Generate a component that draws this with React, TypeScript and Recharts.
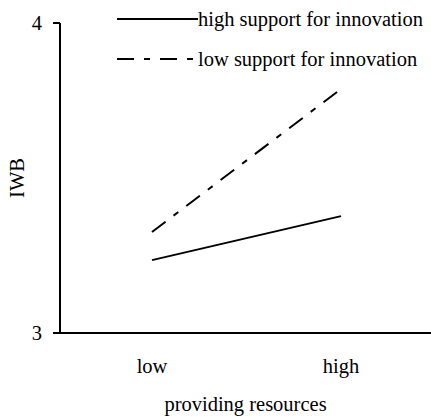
import { LineChart, Line, XAxis, YAxis, Legend } from 'recharts';

const levels = ['low', 'high'];
const highSupport = [3.235, 3.377];
const lowSupport = [3.326, 3.787];
const yTicks = [3, 4];

const data = levels.map((level, i) => ({
  level,
  high: highSupport[i],
  low: lowSupport[i],
}));

const FONT = '"Liberation Serif", "Times New Roman", serif';
const FS = 20.5;
const DASH = '17 10 6 10';

const legendItems = [
  { label: 'high support for innovation', dash: undefined },
  { label: 'low support for innovation', dash: DASH },
];

const renderLegend = () => (
  <div style={{ fontFamily: FONT, fontSize: FS, color: '#000', lineHeight: 1 }}>
    {legendItems.map((item) => (
      <div key={item.label} style={{ display: 'flex', alignItems: 'center', height: 40 }}>
        <svg width={81} height={4} style={{ display: 'block' }}>
          <line x1={0} y1={2} x2={81} y2={2} stroke="#000" strokeWidth={2} strokeDasharray={item.dash} />
        </svg>
        <span style={{ whiteSpace: 'nowrap' }}>{item.label}</span>
      </div>
    ))}
  </div>
);

const YLabel = ({ viewBox }: any) => {
  const cy = viewBox.y + viewBox.height / 2;
  return (
    <text
      x={17}
      y={cy}
      transform={`rotate(-90, 17, ${cy})`}
      textAnchor="middle"
      dominantBaseline="central"
      fontFamily={FONT}
      fontSize={FS}
      fill="#000"
    >
      IWB
    </text>
  );
};

export default function App() {
  return (
    <div style={{ position: 'absolute', left: 0, top: 0, background: '#fff' }}>
      <LineChart width={431} height={420} data={data} margin={{ top: 23, right: 0, bottom: 0, left: 0 }}>
        <XAxis
          dataKey="level"
          height={87}
          padding={{ left: 92, right: 90 }}
          axisLine={{ stroke: '#000', strokeWidth: 2 }}
          tickLine={false}
          tickSize={0}
          tickMargin={25}
          tick={{ fill: '#000', fontFamily: FONT, fontSize: FS }}
          label={{ value: 'providing resources', position: 'insideBottom', offset: 9, fill: '#000', fontFamily: FONT, fontSize: FS }}
        />
        <YAxis
          width={60}
          domain={[3, 4]}
          ticks={yTicks}
          axisLine={{ stroke: '#000', strokeWidth: 2 }}
          tickLine={{ stroke: '#000', strokeWidth: 2 }}
          tickSize={7}
          tickMargin={11}
          tick={{ fill: '#000', fontFamily: FONT, fontSize: FS }}
          label={<YLabel />}
        />
        <Legend
          content={renderLegend}
          layout="horizontal"
          verticalAlign="middle"
          align="center"
          wrapperStyle={{ top: -1, left: 117, width: 320 }}
        />
        <Line dataKey="high" stroke="#000" strokeWidth={2} dot={false} isAnimationActive={false} />
        <Line dataKey="low" stroke="#000" strokeWidth={2} strokeDasharray={DASH} dot={false} isAnimationActive={false} />
      </LineChart>
    </div>
  );
}
